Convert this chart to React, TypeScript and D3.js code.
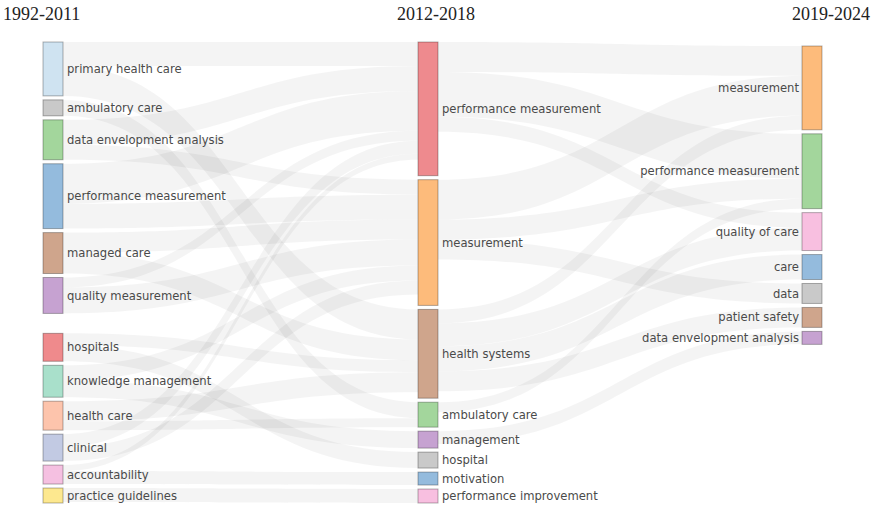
import React from "react";
import * as d3 from "d3";

// ---------- DATA ----------
const periods = ["1992-2011", "2012-2018", "2019-2024"];

const leftNames = [
  "primary health care", "ambulatory care", "data envelopment analysis",
  "performance measurement", "managed care", "quality measurement",
  "hospitals", "knowledge management", "health care", "clinical",
  "accountability", "practice guidelines",
];
const leftValues = [54, 16, 40, 65, 41, 36, 28, 32, 29, 27, 19, 15];
const leftColors = [
  "#cfe3f1", "#c9c9c9", "#a3d69c", "#94bbdd", "#cfa58c", "#c6a2d1",
  "#ef8a8c", "#a9e0cb", "#fdc4ac", "#c2cae3", "#f5c0e1", "#fde88f",
];

const midNames = [
  "performance measurement", "measurement", "health systems", "ambulatory care",
  "management", "hospital", "motivation", "performance improvement",
];
const midValues = [134, 126, 89, 25, 17, 16, 13, 14];
const midColors = [
  "#ee8a8e", "#fdbb7b", "#cfa58c", "#a3d69c", "#c6a2d1", "#c9c9c9", "#94bbdd", "#f8bfe0",
];

const rightNames = [
  "measurement", "performance measurement", "quality of care", "care",
  "data", "patient safety", "data envelopment analysis",
];
const rightValues = [84, 75, 38, 25, 20, 20, 13];
const rightColors = [
  "#fdbb7b", "#a3d69c", "#f8bfe0", "#94bbdd", "#c9c9c9", "#cfa58c", "#c6a2d1",
];

// links: [source index, target index, value]
const linksFirst: [number, number, number][] = [
  [0, 2, 30], [0, 0, 24],
  [1, 3, 16],
  [2, 0, 25], [2, 1, 15],
  [3, 0, 40], [3, 1, 25],
  [4, 2, 21], [4, 1, 20],
  [5, 1, 26], [5, 0, 10],
  [6, 5, 16], [6, 2, 12],
  [7, 4, 17], [7, 1, 15],
  [8, 2, 20], [8, 3, 9],
  [9, 1, 14], [9, 0, 13],
  [10, 6, 13], [10, 0, 6],
  [11, 7, 14],
];
const linksSecond: [number, number, number][] = [
  [0, 1, 45], [0, 0, 30], [0, 2, 15],
  [1, 0, 40], [1, 1, 20], [1, 4, 20],
  [2, 3, 25], [2, 2, 23], [2, 5, 20], [2, 0, 14],
  [3, 1, 10],
  [4, 6, 13],
];

// ---------- LAYOUT ----------
const W = 875;
const H = 520;
const colX = [43, 418, 802];
const nodeW = 20;
const top = 42;
const bottom = 503;
const pad = 4;

type NodeL = { name: string; value: number; color: string; x0: number; x1: number; y0: number; y1: number; col: number };

function layout() {
  const cols = [
    { names: leftNames, values: leftValues, colors: leftColors },
    { names: midNames, values: midValues, colors: midColors },
    { names: rightNames, values: rightValues, colors: rightColors },
  ];
  const k = d3.min(cols, (c) => (bottom - top - (c.values.length - 1) * pad) / d3.sum(c.values)) as number;
  const scale = d3.scaleLinear().domain([0, 1]).range([0, k]);
  const extraAfter = [5, -1, -1];
  const topOffset = [0, 0, 4];
  const nodes: NodeL[][] = cols.map((c, ci) => {
    const used = d3.sum(c.values, (v) => scale(v)) + (c.values.length - 1) * pad;
    const extra = extraAfter[ci] >= 0 ? bottom - top - used : 0;
    let y = top + topOffset[ci];
    return c.values.map((v, i) => {
      const h = scale(v);
      const n: NodeL = { name: c.names[i], value: v, color: c.colors[i], x0: colX[ci], x1: colX[ci] + nodeW, y0: y, y1: y + h, col: ci };
      y += h + pad + (i === extraAfter[ci] ? extra : 0);
      return n;
    });
  });

  const links: { sx: number; tx: number; sy0: number; sy1: number; ty0: number; ty1: number }[] = [];
  const groups = [linksFirst, linksSecond];
  groups.forEach((g, gi) => {
    const src = nodes[gi];
    const tgt = nodes[gi + 1];
    const items = g.map(([s, t, v]) => ({ s: src[s], t: tgt[t], w: scale(v), sy0: 0, ty0: 0 }));
    src.forEach((n) => {
      let y = n.y0;
      items.filter((l) => l.s === n).sort((a, b) => a.t.y0 - b.t.y0).forEach((l) => { l.sy0 = y; y += l.w; });
    });
    tgt.forEach((n) => {
      let y = n.y0;
      items.filter((l) => l.t === n).sort((a, b) => a.s.y0 - b.s.y0).forEach((l) => { l.ty0 = y; y += l.w; });
    });
    items.forEach((l) => links.push({ sx: l.s.x1, tx: l.t.x0, sy0: l.sy0, sy1: l.sy0 + l.w, ty0: l.ty0, ty1: l.ty0 + l.w }));
  });
  return { nodes, links };
}

function linkPath(l: { sx: number; tx: number; sy0: number; sy1: number; ty0: number; ty1: number }) {
  const p = d3.path();
  const xm = d3.interpolateNumber(l.sx, l.tx)(0.5);
  p.moveTo(l.sx, l.sy0);
  p.bezierCurveTo(xm, l.sy0, xm, l.ty0, l.tx, l.ty0);
  p.lineTo(l.tx, l.ty1);
  p.bezierCurveTo(xm, l.ty1, xm, l.sy1, l.sx, l.sy1);
  p.closePath();
  return p.toString();
}

export default function App() {
  const { nodes, links } = layout();
  const titleX = [3, 436, 870];
  const titleAnchor = ["start", "middle", "end"];
  return (
    <svg width={W} height={H} style={{ position: "absolute", left: 0, top: 0, background: "#fff" }}>
      <rect x={0} y={0} width={W} height={H} fill="#fff" />
      <g>
        {links.map((l, i) => (
          <path key={i} d={linkPath(l)} fill="rgba(0,0,0,0.042)" stroke="none" />
        ))}
      </g>
      {nodes.map((col, ci) => (
        <g key={ci}>
          {col.map((n, i) => (
            <g key={i}>
              <rect x={n.x0} y={n.y0} width={n.x1 - n.x0} height={n.y1 - n.y0} fill={n.color} stroke="rgba(0,0,0,0.3)" strokeWidth={1} />
              <text
                x={ci === 2 ? n.x0 - 3 : n.x1 + 4}
                y={(n.y0 + n.y1) / 2}
                dy="0.35em"
                textAnchor={ci === 2 ? "end" : "start"}
                fontFamily="DejaVu Sans, Verdana, sans-serif"
                fontSize={11.6}
                fill="#4a4a4a"
              >
                {n.name}
              </text>
            </g>
          ))}
        </g>
      ))}
      {periods.map((p, i) => (
        <text key={p} x={titleX[i]} y={20} textAnchor={titleAnchor[i]} fontFamily="Liberation Serif, Times New Roman, serif" fontSize={18} fill="#222">
          {p}
        </text>
      ))}
    </svg>
  );
}
